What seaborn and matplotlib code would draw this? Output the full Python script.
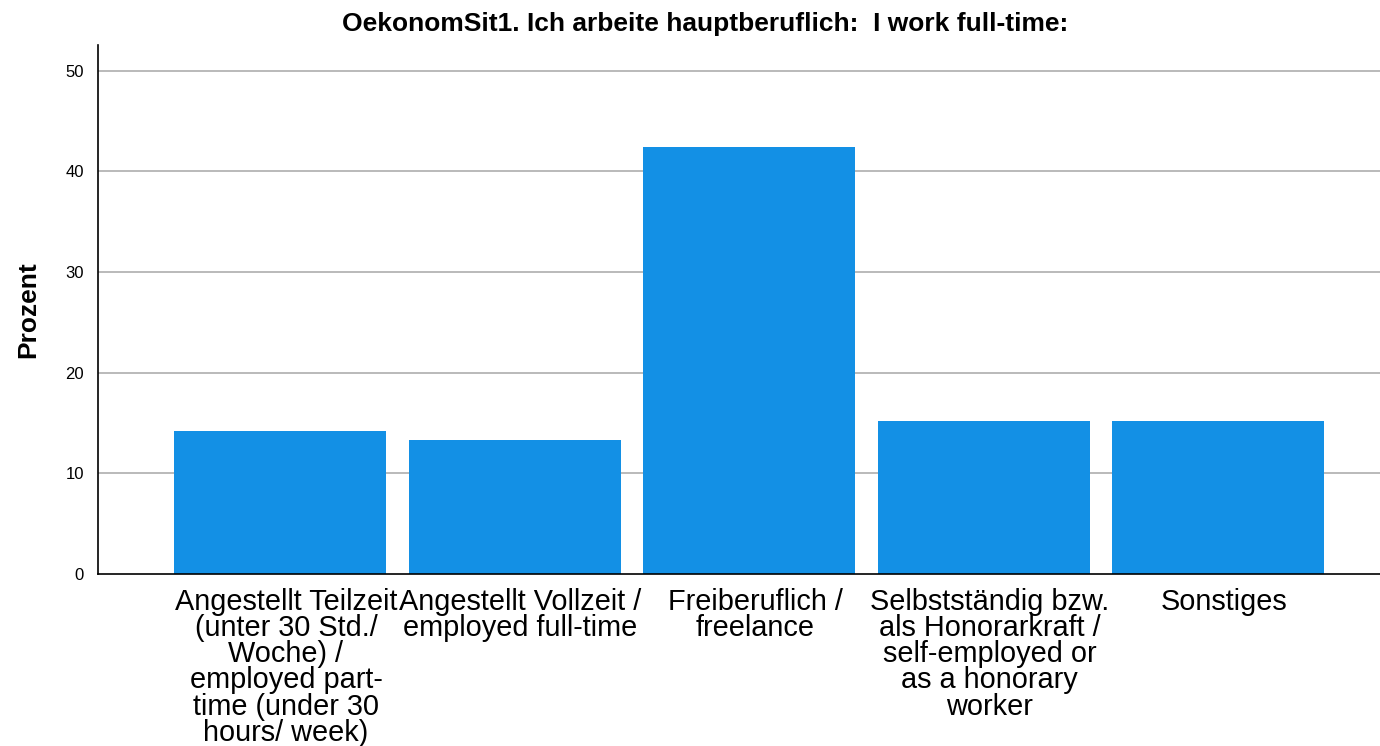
import seaborn as sns
import matplotlib.pyplot as plt
import matplotlib.transforms as mtransforms
import pandas as pd

# Kategorien und Prozentwerte
categories = [
    "Angestellt Teilzeit\n(unter 30 Std./\nWoche) /\nemployed part-\ntime (under 30\nhours/ week)",
    "Angestellt Vollzeit /\nemployed full-time",
    "Freiberuflich /\nfreelance",
    "Selbstständig bzw.\nals Honorarkraft /\nself-employed or\nas a honorary\nworker",
    "Sonstiges",
]
percent = [14.2, 13.3, 42.45, 15.15, 15.15]
yticks = [0, 10, 20, 30, 40, 50]

df = pd.DataFrame({"cat": categories, "pct": percent})

sns.set_style("white")
plt.rcParams['font.family'] = ['Liberation Sans', 'DejaVu Sans']
plt.rcParams['text.color'] = 'black'
plt.rcParams['xtick.color'] = 'black'
plt.rcParams['ytick.color'] = 'black'
plt.rcParams['axes.labelcolor'] = 'black'

fig = plt.figure(figsize=(13.8, 7.46), dpi=100)
ax = fig.add_axes([0.071, 0.231, 0.929, 0.709])
sns.barplot(data=df, x="cat", y="pct", color="#1390E5", saturation=1,
            width=0.904, linewidth=0, edgecolor="none", ax=ax, zorder=2)

ax.set_xlim(-0.776, 4.69)
ax.set_ylim(0, 52.6)
ax.set_yticks(yticks)
ax.set_yticklabels([str(t) for t in yticks], fontsize=12)
for t in yticks[1:]:
    ax.axhline(t, color="#b4b4b4", lw=1.3, zorder=1)
ax.tick_params(axis="both", length=0, pad=10)
ax.tick_params(axis="x", pad=10)
# Beschriftungen leicht nach rechts verschoben, wie im Original
shift = mtransforms.ScaledTranslation(6 / 100, 0, fig.dpi_scale_trans)
for lab in ax.get_xticklabels():
    lab.set_fontsize(20.8)
    lab.set_linespacing(0.92)
    lab.set_transform(lab.get_transform() + shift)
ax.set_xlabel("")
ax.set_ylabel("Prozent", fontsize=19, fontweight="bold", labelpad=18)
ax.set_title("OekonomSit1. Ich arbeite hauptberuflich:  I work full-time:",
             fontsize=19, fontweight="bold", pad=10, x=0.4735)
sns.despine(ax=ax)
for s in ["left", "bottom"]:
    ax.spines[s].set_color("black")
    ax.spines[s].set_linewidth(1.2)

fig.savefig("out.png", dpi=100)
